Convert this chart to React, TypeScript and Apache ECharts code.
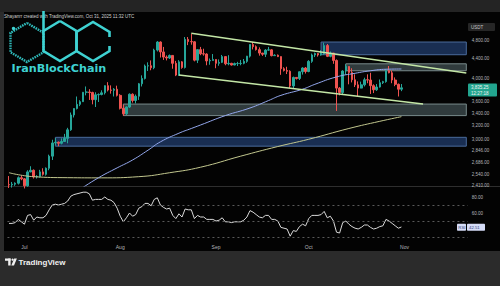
import React, { useEffect, useRef } from 'react';
import * as echarts from 'echarts';

// ---------- data ----------
const START_DAY = { y: 2025, m: 5, d: 26 }; // 26 Jun 2025 (month is 0-based)
const AXIS_DAYS = 149; // daily slots shown on the time axis (data + right margin)
const MONTH_NAMES = ['Jan', 'Feb', 'Mar', 'Apr', 'May', 'Jun', 'Jul', 'Aug', 'Sep', 'Oct', 'Nov', 'Dec'];

// daily candles: [open, close, low, high]
const JUN_OHLC = [
  [2419, 2416, 2380, 2520], [2416, 2424, 2385, 2450], [2424, 2435, 2405, 2445], [2435, 2500, 2420, 2515],
  [2500, 2486, 2470, 2525],
];
const JUL_OHLC = [
  [2486, 2405, 2375, 2495], [2405, 2570, 2395, 2590], [2570, 2590, 2565, 2640], [2590, 2510, 2490, 2600],
  [2510, 2515, 2490, 2530], [2515, 2570, 2500, 2595], [2570, 2540, 2525, 2615], [2540, 2615, 2525, 2625],
  [2615, 2770, 2590, 2790], [2770, 2950, 2720, 2995], [2950, 2960, 2920, 3020], [2960, 2945, 2905, 2970],
  [2945, 2970, 2930, 3015], [2970, 3015, 2965, 3080], [3015, 3140, 2945, 3170], [3140, 3370, 3125, 3410],
  [3370, 3475, 3330, 3480], [3475, 3545, 3460, 3680], [3545, 3590, 3515, 3615], [3590, 3755, 3585, 3760],
  [3755, 3760, 3700, 3860], [3760, 3750, 3620, 3810], [3750, 3625, 3545, 3765], [3625, 3710, 3500, 3755],
  [3710, 3715, 3585, 3735], [3715, 3745, 3700, 3790], [3745, 3875, 3715, 3880], [3875, 3795, 3770, 3940],
  [3795, 3790, 3730, 3880], [3790, 3810, 3680, 3830], [3810, 3700, 3680, 3875],
];
const AUG_OHLC = [
  [3700, 3480, 3460, 3720], [3480, 3390, 3355, 3535], [3390, 3500, 3370, 3510], [3500, 3720, 3485, 3735],
  [3720, 3610, 3575, 3735], [3610, 3685, 3560, 3715], [3685, 3910, 3620, 3925], [3910, 4010, 3860, 4070],
  [4010, 4255, 3990, 4285], [4255, 4260, 4155, 4330], [4260, 4220, 4170, 4370], [4220, 4590, 4190, 4620],
  [4590, 4770, 4560, 4790], [4770, 4550, 4430, 4785], [4550, 4440, 4380, 4660], [4440, 4420, 4370, 4475],
  [4420, 4475, 4400, 4495], [4475, 4310, 4200, 4480], [4310, 4075, 4055, 4360], [4075, 4340, 4060, 4375],
  [4340, 4225, 4200, 4355], [4225, 4830, 4205, 4885], [4830, 4780, 4700, 4885], [4780, 4775, 4710, 4956],
  [4775, 4375, 4350, 4790], [4375, 4600, 4315, 4610], [4600, 4510, 4480, 4660], [4510, 4505, 4470, 4620],
  [4505, 4360, 4270, 4520], [4360, 4370, 4280, 4410], [4370, 4390, 4365, 4505],
];
const SEP_OHLC = [
  [4390, 4310, 4210, 4395], [4310, 4330, 4260, 4390], [4330, 4450, 4315, 4485], [4450, 4300, 4270, 4455],
  [4300, 4310, 4270, 4480], [4310, 4275, 4265, 4320], [4275, 4305, 4270, 4325], [4305, 4305, 4255, 4340],
  [4305, 4310, 4270, 4380], [4310, 4350, 4290, 4400], [4350, 4460, 4320, 4465], [4460, 4715, 4430, 4720],
  [4715, 4665, 4605, 4770], [4665, 4600, 4580, 4695], [4600, 4525, 4470, 4650], [4525, 4500, 4465, 4530],
  [4500, 4590, 4440, 4610], [4590, 4595, 4575, 4660], [4595, 4470, 4455, 4610], [4470, 4480, 4465, 4500],
  [4480, 4450, 4440, 4495], [4450, 4200, 4080, 4455], [4200, 4165, 4145, 4230], [4165, 4150, 4095, 4240],
  [4150, 3870, 3830, 4170], [3870, 4030, 3815, 4045], [4030, 4010, 3990, 4035], [4010, 4140, 3980, 4145],
  [4140, 4215, 4085, 4230], [4215, 4145, 4105, 4235],
];
const OCT_OHLC = [
  [4145, 4350, 4130, 4375], [4350, 4485, 4320, 4515], [4485, 4515, 4440, 4535], [4515, 4485, 4450, 4525],
  [4485, 4515, 4470, 4590], [4515, 4690, 4490, 4755], [4690, 4455, 4440, 4725], [4455, 4525, 4435, 4560],
  [4525, 4370, 4300, 4530], [4370, 3830, 3435, 4390], [3830, 3750, 3700, 3850], [3750, 4155, 3715, 4170],
  [4155, 4245, 4080, 4290], [4245, 4125, 3900, 4250], [4125, 3985, 3935, 4210], [3985, 3890, 3850, 4090],
  [3890, 3830, 3680, 3955], [3830, 3890, 3825, 3950], [3890, 3985, 3860, 4025], [3985, 3980, 3920, 4090],
  [3980, 3875, 3725, 4120], [3875, 3800, 3740, 3900], [3800, 3850, 3780, 3905], [3850, 3930, 3840, 3990],
  [3930, 3950, 3905, 3965], [3950, 4160, 3930, 4190], [4160, 4120, 4110, 4255], [4120, 3980, 3920, 4165],
  [3980, 3900, 3865, 4030], [3900, 3810, 3680, 3915], [3810, 3835.25, 3775, 3905],
];

// RSI(14), one value per candle
const RSI_VALUES = [
  47, 47, 48, 52, 49,
  46, 57, 58, 51, 55, 54, 54, 57, 64, 70, 71, 70, 71, 72, 75, 81, 83, 84, 85, 86, 86, 84, 76, 77, 77, 77, 80, 77, 76, 73, 66,
  56, 49, 54, 60, 56, 58, 66, 68, 72, 72, 69, 77, 79, 70, 67, 65, 66, 57, 53, 59, 55, 65, 64, 64, 53, 57, 55, 55, 52, 52, 52,
  50, 51, 54, 49, 49, 48, 49, 49, 49, 51, 55, 63, 61, 58, 55, 54, 57, 57, 52, 52, 50, 42, 41, 40, 31, 38, 37, 43, 46, 44,
  53, 57, 57, 57, 58, 62, 54, 56, 50, 36, 35, 48, 50, 46, 43, 41, 40, 42, 45, 45, 42, 40, 41, 43, 44, 52, 50, 47, 44, 41, 42.51,
];

// moving averages: [candle index, price]
const MA_FAST = [
  [23, 2365], [29, 2500], [35, 2620], [40, 2720], [45, 2850], [49, 2965], [55, 3090], [59, 3160], [62, 3213],
  [70, 3360], [78, 3484], [84, 3610], [88, 3700], [95, 3810], [99, 3900], [106, 4040], [112, 4110], [117, 4160],
  [122, 4190], [127, 4195],
];
const MA_SLOW = [
  [0, 2560], [8, 2512], [19, 2500], [30, 2498], [42, 2512], [52, 2560], [62, 2628], [75, 2770], [87, 2900],
  [97, 3002], [110, 3160], [120, 3270], [127, 3343],
];

// hand-drawn channel: [candle index, price]
const CHANNEL_UPPER = [[59, 4975], [148, 4115]];
const CHANNEL_LOWER = [[55, 4076], [134, 3551]];

// zones: start candle index, low, high (all run to the right edge)
const BLUE_ZONES = [
  { from: 15, low: 2905, high: 3030 },
  { from: 101, low: 4490, high: 4770 },
];
const GRAY_ZONES = [
  { from: 37, low: 3360, high: 3550 },
  { from: 109, low: 4160, high: 4300 },
];

const PRICE_TICKS = [2410, 2540, 2686, 2846, 3000, 3200, 3400, 3600, 4000, 4400, 4800];
const RSI_TICKS = [80, 60];
const RSI_LEVELS = [70, 50, 30];
const LAST_PRICE = 3835.25;
const LAST_TIME = '12:27:18';
const LAST_RSI = 42.51;
const QUOTE = 'USDT';
const HEADER = 'Shayanrr created with TradingView.com, Oct 31, 2025 11:32 UTC';
const WATERMARK = 'IranBlockChain';
const BRAND = 'TradingView';

// ---------- helpers ----------
const OHLC = [...JUN_OHLC, ...JUL_OHLC, ...AUG_OHLC, ...SEP_OHLC, ...OCT_OHLC];
const CATEGORIES = Array.from({ length: AXIS_DAYS }, (_, i) =>
  new Date(Date.UTC(START_DAY.y, START_DAY.m, START_DAY.d + i)).toISOString().slice(0, 10)
);
const LAST_INDEX = AXIS_DAYS - 1;
const fmt2 = (v: number) =>
  Number(v).toLocaleString('en-US', { minimumFractionDigits: 2, maximumFractionDigits: 2 });

const FONT = 'Liberation Sans';
const LABEL_COLOR = '#b4b6bb';
const UP = '#26a69a';
const DOWN = '#ef5350';

const zoneData = (zones: { from: number; low: number; high: number }[], fill: string, border: string) =>
  zones.map((z) => [
    { xAxis: z.from, yAxis: z.high, itemStyle: { color: fill, borderColor: border, borderWidth: 1 } },
    { xAxis: LAST_INDEX, yAxis: z.low },
  ]);

const hexPts = (cx: number, top: number, bottom: number, hw: number) => {
  const h = bottom - top;
  return [
    [cx, top], [cx + hw, top + h / 4], [cx + hw, top + (3 * h) / 4], [cx, bottom],
    [cx - hw, top + (3 * h) / 4], [cx - hw, top + h / 4], [cx, top],
  ];
};

const LOGO = '#3fd2d2';

function buildOption(): any {
  const gridLeft = 7.45;
  const gridWidth = 460.4;
  return {
    animation: false,
    backgroundColor: '#2b2b2b',
    grid: [
      { left: gridLeft, top: 12, width: gridWidth, height: 174 },
      { left: gridLeft, top: 186, width: gridWidth, height: 55 },
    ],
    xAxis: [
      { type: 'category', gridIndex: 0, data: CATEGORIES, boundaryGap: true, show: false },
      {
        type: 'category', gridIndex: 1, data: CATEGORIES, boundaryGap: true,
        axisLine: { show: false }, axisTick: { show: false }, splitLine: { show: false },
        axisLabel: {
          interval: (_i: number, v: string) => v.endsWith('-01'),
          formatter: (v: string) => MONTH_NAMES[Number(v.slice(5, 7)) - 1],
          color: LABEL_COLOR, fontSize: 5, fontFamily: FONT, margin: 3,
        },
      },
    ],
    yAxis: [
      {
        type: 'log', logBase: 10, gridIndex: 0, position: 'right', min: 2403, max: 5503,
        axisLine: { show: false }, axisTick: { show: false }, splitLine: { show: false },
        axisLabel: {
          customValues: PRICE_TICKS, formatter: (v: number) => fmt2(v),
          color: LABEL_COLOR, fontSize: 4.5, fontFamily: FONT, margin: 4,
        },
      },
      {
        type: 'value', gridIndex: 1, position: 'right', min: 25, max: 93.75,
        axisLine: { show: false }, axisTick: { show: false }, splitLine: { show: false },
        axisLabel: {
          customValues: RSI_TICKS, formatter: (v: number) => fmt2(v),
          color: LABEL_COLOR, fontSize: 4.5, fontFamily: FONT, margin: 4,
        },
      },
    ],
    series: [
      {
        type: 'candlestick', xAxisIndex: 0, yAxisIndex: 0, data: OHLC, barWidth: '66%', z: 3,
        itemStyle: { color: UP, color0: DOWN, borderColor: UP, borderColor0: DOWN, borderWidth: 1 },
        markArea: {
          silent: true,
          data: [
            ...zoneData(BLUE_ZONES, 'rgba(30,56,100,0.82)', '#4a6b9b'),
            ...zoneData(GRAY_ZONES, 'rgba(60,74,76,0.8)', '#788a8b'),
          ],
        },
      },
      {
        type: 'line', xAxisIndex: 0, yAxisIndex: 0, data: MA_SLOW, smooth: true, showSymbol: false,
        lineStyle: { color: '#c2c78e', width: 1 }, z: 4, silent: true,
      },
      {
        type: 'line', xAxisIndex: 0, yAxisIndex: 0, data: MA_FAST, smooth: true, showSymbol: false,
        lineStyle: { color: '#93a7ec', width: 1 }, z: 4, silent: true,
      },
      {
        type: 'line', xAxisIndex: 0, yAxisIndex: 0, data: CHANNEL_UPPER, showSymbol: false,
        lineStyle: { color: '#c3e6a6', width: 1.5 }, z: 5, silent: true,
      },
      {
        type: 'line', xAxisIndex: 0, yAxisIndex: 0, data: CHANNEL_LOWER, showSymbol: false,
        lineStyle: { color: '#c3e6a6', width: 1.5 }, z: 5, silent: true,
      },
      {
        type: 'line', xAxisIndex: 1, yAxisIndex: 1, data: RSI_VALUES, showSymbol: false,
        lineStyle: { color: '#dadada', width: 1 }, z: 4, silent: true,
        markLine: {
          silent: true, symbol: ['none', 'none'], label: { show: false },
          lineStyle: { color: '#5a5a5a', type: [2, 3], width: 1 },
          data: RSI_LEVELS.map((v) => ({ yAxis: v })),
        },
      },
    ],
    graphic: [
      // panel backgrounds
      { type: 'rect', z: -10, shape: { x: 0, y: 0, width: 500, height: 12 }, style: { fill: '#242424' } },
      { type: 'rect', z: -10, shape: { x: 4, y: 12, width: 496, height: 239 }, style: { fill: '#030303' } },
      { type: 'line', z: -9, shape: { x1: 4, y1: 186.5, x2: 500, y2: 186.5 }, style: { stroke: '#2e2e2e', lineWidth: 1 } },
      // header
      {
        type: 'text', z: 50, x: 4, y: 16,
        style: { text: HEADER, fill: '#d0d0d0', font: `4.5px "${FONT}"`, textVerticalAlign: 'middle' },
      },
      // watermark logo
      { type: 'polyline', z: 60, shape: { points: hexPts(27, 23, 62, 16.5) }, style: { stroke: '#2fb9b9', lineWidth: 2.4, fill: null, lineDash: [1.6, 0.9] } },
      { type: 'polyline', z: 60, shape: { points: hexPts(60, 21, 61, 16.5) }, style: { stroke: LOGO, lineWidth: 2.6, fill: null } },
      { type: 'polyline', z: 60, shape: { points: [[109.5, 37], [109.5, 32], [93, 22], [76.5, 32], [76.5, 51], [93, 61], [109.5, 51], [109.5, 46]] }, style: { stroke: LOGO, lineWidth: 2.6, fill: null } },
      { type: 'line', z: 60, shape: { x1: 43.5, y1: 11, x2: 43.5, y2: 32 }, style: { stroke: LOGO, lineWidth: 2.6 } },
      { type: 'circle', z: 60, shape: { cx: 13.5, cy: 28.5, r: 1.7 }, style: { fill: LOGO } },
      {
        type: 'text', z: 60, x: 11.5, y: 68.5,
        style: { text: WATERMARK, fill: LOGO, font: 'bold 11.2px "DejaVu Sans"', textVerticalAlign: 'middle' },
      },
      // quote currency
      { type: 'rect', z: 50, shape: { x: 468, y: 23, width: 27, height: 8, r: 1 }, style: { fill: '#262626' } },
      { type: 'text', z: 51, x: 471, y: 27, style: { text: QUOTE, fill: '#c4c4c4', font: `4.5px "${FONT}"`, textVerticalAlign: 'middle' } },
      // last price tag
      { type: 'rect', z: 50, shape: { x: 468, y: 83.5, width: 29, height: 13, r: 1 }, style: { fill: '#22a58f' } },
      { type: 'text', z: 51, x: 471, y: 87.6, style: { text: fmt2(LAST_PRICE), fill: '#f2f2f2', font: `4.5px "${FONT}"`, textVerticalAlign: 'middle' } },
      { type: 'text', z: 51, x: 471, y: 93, style: { text: LAST_TIME, fill: '#f2f2f2', font: `4.5px "${FONT}"`, textVerticalAlign: 'middle' } },
      // RSI tag
      { type: 'rect', z: 50, shape: { x: 457, y: 223.8, width: 9, height: 7, r: 0.8 }, style: { fill: '#d5dcf7' } },
      { type: 'text', z: 51, x: 458.3, y: 227.4, style: { text: 'RSI', fill: '#2b3a78', font: `4.3px "${FONT}"`, textVerticalAlign: 'middle' } },
      { type: 'rect', z: 50, shape: { x: 467, y: 223.8, width: 18, height: 7, r: 0.8 }, style: { fill: '#d5dcf7' } },
      { type: 'text', z: 51, x: 469, y: 227.4, style: { text: fmt2(LAST_RSI), fill: '#2b3a78', font: `4.3px "${FONT}"`, textVerticalAlign: 'middle' } },
      // TradingView brand
      { type: 'rect', z: 50, shape: { x: 5, y: 258.5, width: 5.6, height: 2.3 }, style: { fill: '#f0f0f0' } },
      { type: 'rect', z: 50, shape: { x: 8.2, y: 258.5, width: 2.4, height: 7 }, style: { fill: '#f0f0f0' } },
      { type: 'circle', z: 50, shape: { cx: 12.6, cy: 259.7, r: 1.15 }, style: { fill: '#f0f0f0' } },
      { type: 'polygon', z: 50, shape: { points: [[14.2, 258.5], [16.9, 258.5], [14, 265.5], [11.3, 265.5]] }, style: { fill: '#f0f0f0' } },
      {
        type: 'text', z: 50, x: 18.5, y: 262.3,
        style: { text: BRAND, fill: '#f0f0f0', font: `bold 8px "${FONT}"`, textVerticalAlign: 'middle' },
      },
    ],
  };
}

export default function App() {
  const ref = useRef<HTMLDivElement>(null);
  useEffect(() => {
    if (!ref.current) return;
    const chart = echarts.init(ref.current, undefined, { renderer: 'svg' });
    chart.setOption(buildOption());
    return () => chart.dispose();
  }, []);
  return <div ref={ref} style={{ position: 'fixed', left: 0, top: 0, width: 500, height: 286 }} />;
}
